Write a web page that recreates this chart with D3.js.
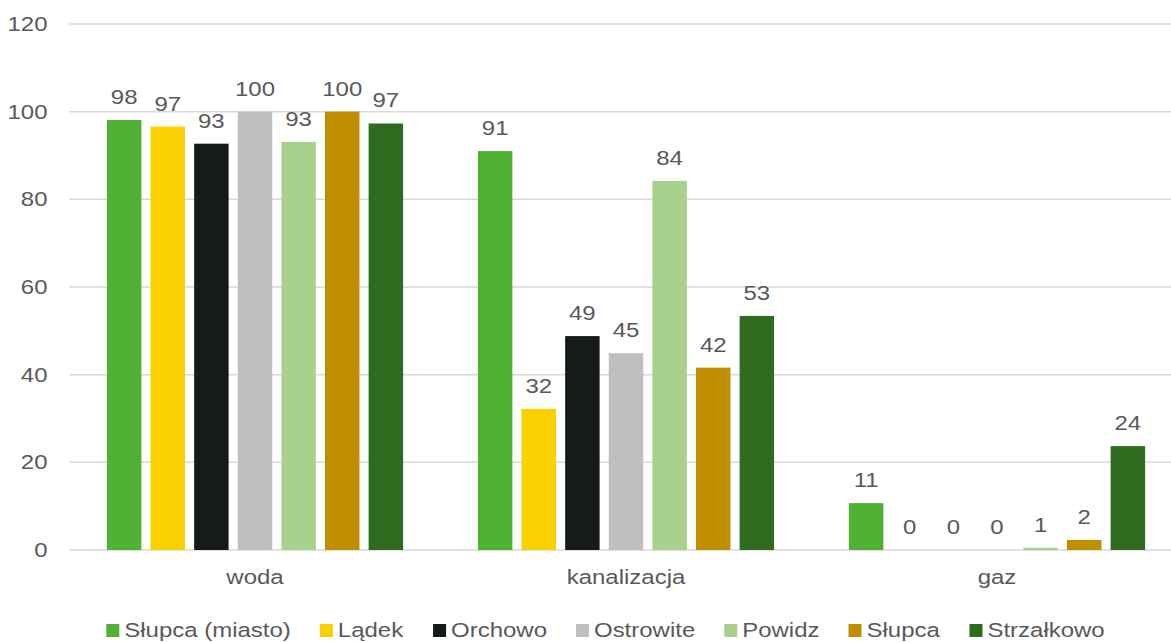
<!DOCTYPE html>
<html>
<head>
<meta charset="utf-8">
<script src="https://cdn.jsdelivr.net/npm/d3@7"></script>
<style>
    body { margin: 0; background: #fff; }
    text { font-family: "Liberation Sans", Arial, sans-serif; fill: #595959; }
</style>
</head>
<body>
<svg id="chart"></svg>
<script>
const categories = ['woda', 'kanalizacja', 'gaz'];
const seriesNames = ['Słupca (miasto)', 'Lądek', 'Orchowo', 'Ostrowite', 'Powidz', 'Słupca', 'Strzałkowo'];
const seriesColors = ['#4fb234', '#f9d000', '#161a19', '#bfbfbf', '#a9d18e', '#bf8f00', '#2f6b1f'];
// one array per category, same order as seriesNames
const wodaValues = [98.1, 96.6, 92.7, 100, 93.1, 100, 97.3];
const kanalizacjaValues = [91.0, 32.2, 48.8, 44.9, 84.2, 41.6, 53.4];
const gazValues = [10.7, 0, 0, 0, 0.5, 2.3, 23.7];
const yTicks = [0, 20, 40, 60, 80, 100, 120];

const valuesByCategory = { woda: wodaValues, kanalizacja: kanalizacjaValues, gaz: gazValues };

const width = 1171, height = 642;
const margin = { top: 24, left: 69.5, bottom: 92 };
const plotRight = 1182.5;
const fontSize = '20.5px';
const stretch = 1.17; // text in the reference is a bit wide

let svg = d3.select('#chart').attr('width', width).attr('height', height);

let x0 = d3.scaleBand()
    .domain(categories)
    .range([margin.left, plotRight])
    .paddingInner(0.177)
    .paddingOuter(0.0885);

let x1 = d3.scaleBand()
    .domain(seriesNames)
    .range([0, x0.bandwidth()])
    .paddingInner(0.21)
    .paddingOuter(0.105);

let y = d3.scaleLinear()
    .domain([0, 120])
    .range([height - margin.bottom, margin.top]);

// gridlines
svg.append('g')
    .selectAll('line')
    .data(yTicks)
    .join('line')
    .attr('x1', margin.left)
    .attr('x2', plotRight)
    .attr('y1', d => y(d))
    .attr('y2', d => y(d))
    .attr('stroke', '#d9d9d9')
    .attr('stroke-width', 1.5);

// y axis labels
let yAxis = svg.append('g')
    .attr('transform', 'translate(' + margin.left + ',0)')
    .call(d3.axisLeft(y).tickValues(yTicks).tickSize(0).tickPadding(22));
yAxis.select('.domain').remove();
yAxis.selectAll('text')
    .attr('fill', '#595959')
    .style('font-size', fontSize)
    .style('font-family', '"Liberation Sans", Arial, sans-serif');

// bars
let groups = svg.append('g')
    .selectAll('g')
    .data(categories)
    .join('g')
    .attr('transform', d => 'translate(' + x0(d) + ',0)');

let cells = groups.selectAll('g')
    .data(c => seriesNames.map((s, i) => ({ series: s, color: seriesColors[i], value: valuesByCategory[c][i] })))
    .join('g');

cells.append('rect')
    .attr('x', d => x1(d.series))
    .attr('width', x1.bandwidth())
    .attr('y', d => y(d.value))
    .attr('height', d => y(0) - y(d.value))
    .attr('fill', d => d.color);

cells.append('text')
    .attr('x', d => x1(d.series) + x1.bandwidth() / 2)
    .attr('y', d => y(d.value) - 16)
    .attr('text-anchor', 'middle')
    .style('font-size', fontSize)
    .text(d => d3.format('.0f')(d.value));

// x axis labels
let xAxis = svg.append('g')
    .attr('transform', 'translate(0,' + y(0) + ')')
    .call(d3.axisBottom(x0).tickSize(0).tickPadding(19));
xAxis.select('.domain').remove();
xAxis.selectAll('text')
    .attr('fill', '#595959')
    .style('font-size', fontSize)
    .style('font-family', '"Liberation Sans", Arial, sans-serif');

// legend
let legend = svg.append('g');
let items = legend.selectAll('g')
    .data(seriesNames)
    .join('g');
items.append('rect')
    .attr('width', 13)
    .attr('height', 13)
    .attr('y', 624)
    .attr('fill', (d, i) => seriesColors[i]);
items.append('text')
    .attr('x', 18)
    .attr('y', 637)
    .style('font-size', fontSize)
    .text(d => d);

// widen every text around its own anchor
svg.selectAll('text').attr('transform', function () {
    let ax = +this.getAttribute('x') || 0;
    return 'translate(' + ax + ',0) scale(' + stretch + ',1) translate(' + (-ax) + ',0)';
});

let pos = 0;
let offsets = [];
items.each(function () {
    offsets.push(pos);
    let tw = d3.select(this).select('text').node().getBBox().width * stretch;
    pos += 18 + tw + 29;
});
let total = pos - 29;
let startX = 605.5 - total / 2;
items.attr('transform', (d, i) => 'translate(' + (startX + offsets[i]) + ',0)');
</script>
</body>
</html>
